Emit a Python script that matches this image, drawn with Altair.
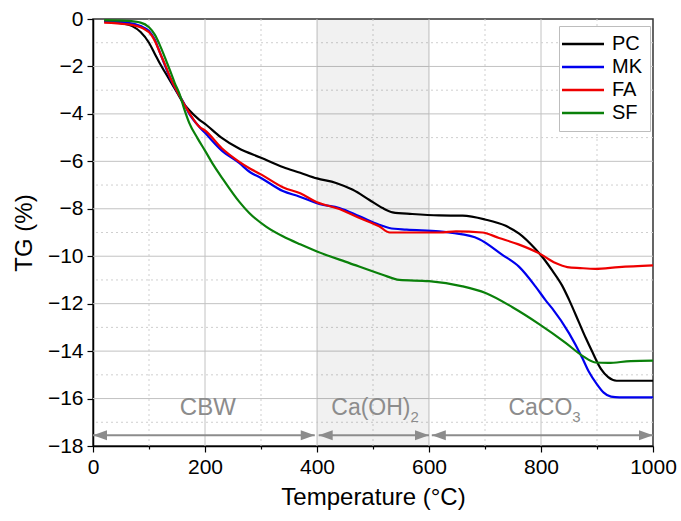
import altair as alt
import pandas as pd

# ---- data ----
samples = ["PC", "MK", "FA", "SF"]
colors = ["#000000", "#0000ee", "#ee0000", "#0a800a"]

pc_T = [20, 50, 70, 85, 100, 110, 120, 130, 140, 150, 160, 172, 190, 200, 228, 260, 300, 340, 370, 400,
        434, 464, 493, 517, 535, 570, 618, 660, 700, 737, 761, 790, 808, 820, 838, 850, 868, 880, 892,
        907, 920, 935, 1000]
pc_TG = [-0.1, -0.18, -0.3, -0.55, -1.0, -1.45, -1.9, -2.3, -2.7, -3.1, -3.5, -3.85, -4.25, -4.42, -4.98,
         -5.45, -5.85, -6.25, -6.48, -6.72, -6.91, -7.2, -7.62, -7.97, -8.15, -8.22, -8.28, -8.29, -8.45,
         -8.72, -9.05, -9.7, -10.2, -10.6, -11.25, -11.83, -12.8, -13.45, -14.05, -14.75, -15.1, -15.25, -15.25]

mk_T = [20, 60, 85, 100, 110, 120, 130, 140, 150, 160, 172, 190, 200, 230, 261, 280, 300, 339, 368, 404,
        440, 476, 511, 529, 560, 618, 642, 689, 731, 761, 790, 808, 820, 850, 874, 885, 900, 912, 925,
        940, 1000]
mk_TG = [-0.1, -0.15, -0.3, -0.5, -0.85, -1.45, -2.05, -2.6, -3.05, -3.45, -4.0, -4.55, -4.8, -5.55, -6.07,
         -6.45, -6.7, -7.25, -7.48, -7.8, -7.97, -8.32, -8.67, -8.81, -8.88, -8.95, -9.02, -9.27, -9.94,
         -10.45, -11.27, -11.85, -12.2, -13.24, -14.3, -14.85, -15.4, -15.75, -15.92, -15.95, -15.95]

fa_T = [20, 60, 90, 105, 112, 120, 130, 137, 150, 155, 172, 190, 200, 230, 260, 280, 300, 340, 370, 400,
        440, 476, 511, 530, 560, 620, 648, 695, 725, 761, 796, 826, 847, 870, 897, 939, 1000]
fa_TG = [-0.15, -0.22, -0.4, -0.7, -1.0, -1.45, -2.0, -2.42, -3.05, -3.26, -3.96, -4.55, -4.7, -5.45, -6.0,
         -6.3, -6.55, -7.1, -7.35, -7.72, -8.01, -8.39, -8.74, -9.0, -9.0, -9.0, -8.95, -9.0, -9.23, -9.51,
         -9.87, -10.29, -10.46, -10.5, -10.53, -10.46, -10.39]

sf_T = [20, 60, 85, 100, 110, 119, 128, 137, 146, 155, 163, 172, 186, 200, 215, 232, 261, 279, 309, 339,
        370, 400, 458, 517, 547, 600, 660, 701, 749, 796, 844, 874, 897, 920, 960, 1000]
sf_TG = [-0.05, -0.08, -0.15, -0.35, -0.65, -1.08, -1.6, -2.14, -2.7, -3.19, -3.8, -4.39, -5.0, -5.55, -6.15,
         -6.75, -7.7, -8.18, -8.75, -9.16, -9.5, -9.8, -10.29, -10.78, -11.0, -11.05, -11.27, -11.55, -12.15,
         -12.85, -13.65, -14.2, -14.48, -14.5, -14.42, -14.4]

# grid positions
x_major = [200, 400, 600, 800]
x_minor = [100, 300, 500, 700, 900]
y_major = [-2, -4, -6, -8, -10, -12, -14, -16]
y_minor = [-1, -3, -5, -7, -9, -11, -13, -15, -17]

# shaded Ca(OH)2 zone
zone_start = [400]
zone_end = [600]

# range arrows
arrow_start = [0, 403, 605]
arrow_end = [396, 600, 1000]
arrow_level = -17.55

# range labels (main part, subscript)
label_text = ["CBW", "Ca(OH)", "CaCO"]
label_x = [205, 567, 856]
sub_text = ["2", "3"]
sub_x = [567, 856]
label_level = -16.71
sub_level = -17.0

# ---- tables ----
rows = []
for name, ts, gs in zip(samples, [pc_T, mk_T, fa_T, sf_T], [pc_TG, mk_TG, fa_TG, sf_TG]):
    for t, g in zip(ts, gs):
        rows.append({"T": t, "TG": g, "sample": name})
df = pd.DataFrame(rows)

zone_df = pd.DataFrame({"x0": zone_start, "x1": zone_end, "y0": [0], "y1": [-18]})
arrow_df = pd.DataFrame({"x0": arrow_start, "x1": arrow_end, "y": [arrow_level] * 3})
left_tips = pd.DataFrame({"x": arrow_start, "y": [arrow_level] * 3})
right_tips = pd.DataFrame({"x": arrow_end, "y": [arrow_level] * 3})
lab_center = pd.DataFrame({"x": label_x[:1], "y": [label_level], "t": label_text[:1]})
lab_right = pd.DataFrame({"x": label_x[1:], "y": [label_level] * 2, "t": label_text[1:]})
lab_sub = pd.DataFrame({"x": sub_x, "y": [sub_level] * 2, "t": sub_text})

FONT = "Liberation Sans"
GRAY = "#8c8c8c"

x_scale = alt.Scale(domain=[0, 1000], nice=False, zero=False)
y_scale = alt.Scale(domain=[-18, 0], nice=False, zero=False)

x_axis = alt.Axis(
    values=list(range(0, 1001, 100)), format="d",
    labelExpr="datum.value % 200 === 0 ? datum.label : ''",
    tickSize={"condition": {"test": "datum.value % 200 === 0", "value": 6}, "value": 3},
    grid=False,
    labelOverlap=False, labelFlush=False, labelPadding=4,
    title="Temperature (°C)", titlePadding=8,
)
y_axis = alt.Axis(
    values=list(range(-18, 1, 1)),
    labelExpr="datum.value % 2 === 0 ? datum.label : ''",
    tickSize={"condition": {"test": "datum.value % 2 === 0", "value": 6}, "value": 3},
    grid=False,
    labelOverlap=False, labelPadding=4,
    title="TG (%)", titlePadding=11,
)

gx_major = alt.Chart(pd.DataFrame({"v": x_major})).mark_rule(color="#c2c2c2", strokeWidth=1).encode(
    x=alt.X("v:Q", scale=x_scale, axis=x_axis))
gx_minor = alt.Chart(pd.DataFrame({"v": x_minor})).mark_rule(
    color="#cfcfcf", strokeWidth=1, strokeDash=[2, 3]).encode(x=alt.X("v:Q", scale=x_scale, axis=x_axis))
gy_major = alt.Chart(pd.DataFrame({"v": y_major})).mark_rule(color="#c2c2c2", strokeWidth=1).encode(
    y=alt.Y("v:Q", scale=y_scale, axis=y_axis))
gy_minor = alt.Chart(pd.DataFrame({"v": y_minor})).mark_rule(
    color="#cfcfcf", strokeWidth=1, strokeDash=[2, 3]).encode(y=alt.Y("v:Q", scale=y_scale, axis=y_axis))

zone = alt.Chart(zone_df).mark_rect(color="#000000", opacity=0.055).encode(
    x=alt.X("x0:Q", scale=x_scale, axis=x_axis),
    x2="x1:Q",
    y=alt.Y("y0:Q", scale=y_scale, axis=y_axis),
    y2="y1:Q",
)

lines = alt.Chart(df).mark_line(strokeWidth=2.2, interpolate="monotone").encode(
    x=alt.X("T:Q", scale=x_scale, axis=x_axis),
    y=alt.Y("TG:Q", scale=y_scale, axis=y_axis),
    color=alt.Color(
        "sample:N",
        scale=alt.Scale(domain=samples, range=colors),
        sort=samples,
        legend=alt.Legend(
            title=None, orient="none", legendX=466, legendY=7,
            fillColor="white", strokeColor="#bdbdbd", padding=8,
            symbolType="M-3,0L5.4,0", symbolSize=100, symbolStrokeWidth=2.5,
            labelFont=FONT, labelFontSize=20, labelColor="#000000", labelOffset=25,
            rowPadding=3,
        ),
    ),
    detail="sample:N",
    order=alt.Order("T:Q"),
)

arrows = alt.Chart(arrow_df).mark_rule(color=GRAY, strokeWidth=2).encode(
    x="x0:Q", x2="x1:Q", y="y:Q"
)
lhead = alt.Chart(left_tips).mark_point(
    shape="M0,0L1,-0.36L1,0.36Z", filled=True, color=GRAY, opacity=1, size=784
).encode(x="x:Q", y="y:Q")
rhead = alt.Chart(right_tips).mark_point(
    shape="M0,0L-1,-0.36L-1,0.36Z", filled=True, color=GRAY, opacity=1, size=784
).encode(x="x:Q", y="y:Q")

t_center = alt.Chart(lab_center).mark_text(
    font=FONT, fontSize=24, color=GRAY, align="center", baseline="alphabetic"
).encode(x="x:Q", y="y:Q", text="t:N")
t_right = alt.Chart(lab_right).mark_text(
    font=FONT, fontSize=23, color=GRAY, align="right", baseline="alphabetic"
).encode(x="x:Q", y="y:Q", text="t:N")
t_sub = alt.Chart(lab_sub).mark_text(
    font=FONT, fontSize=15, color=GRAY, align="left", baseline="alphabetic"
).encode(x="x:Q", y="y:Q", text="t:N")

chart = alt.layer(gx_major, gx_minor, gy_major, gy_minor, zone, lines, arrows, lhead, rhead,
                  t_center, t_right, t_sub).properties(
    width=560, height=427,
    autosize=alt.AutoSizeParams(type="none"),
    padding={"left": 93, "top": 19, "right": 28, "bottom": 75},
).configure_view(
    stroke="#333333", strokeWidth=1.5
).configure_axis(
    labelFont=FONT, labelFontSize=21, labelColor="#000000",
    titleFont=FONT, titleFontSize=24, titleFontWeight="normal", titleColor="#000000",
    domainColor="#000000", domainWidth=1.5, tickColor="#000000", tickWidth=1.2,
)

chart.save("out.html", embed_options={"renderer": "svg", "actions": False})
